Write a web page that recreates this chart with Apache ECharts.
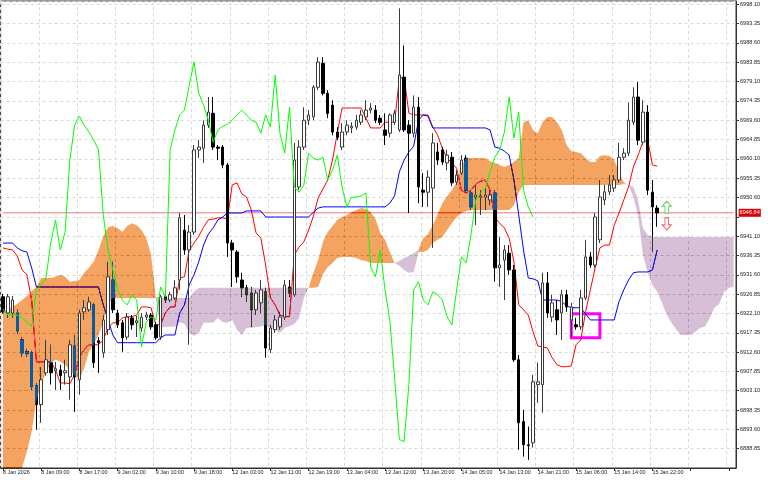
<!DOCTYPE html>
<html><head><meta charset="utf-8">
<script src="https://cdn.jsdelivr.net/npm/echarts@6/dist/echarts.min.js"></script>
<style>html,body{margin:0;padding:0;background:#fff}#c{width:768px;height:480px}</style>
</head><body><div id="c"></div>
<script>
const tickLabels = ["8 Jan 2026","8 Jan 09:00","8 Jan 17:00","9 Jan 02:00","9 Jan 10:00","9 Jan 18:00","12 Jan 03:00","12 Jan 11:00","12 Jan 19:00","13 Jan 04:00","13 Jan 12:00","13 Jan 20:00","14 Jan 05:00","14 Jan 13:00","14 Jan 21:00","15 Jan 06:00","15 Jan 14:00","15 Jan 22:00"];

const open = [6926.2,6922.2,6922.2,6922.2,6915.6,6912.7,6912.4,6904.3,6899.7,6907.5,
6910.0,6908.0,6908.2,6907.5,6906.5,6914.1,6905.8,6922.5,6923.0,6924.2,
6915.4,6912.4,6918.1,6930.3,6922.2,6919.8,6916.3,6921.0,6919.8,6918.5,
6921.2,6921.7,6919.3,6916.3,6926.2,6925.4,6925.9,6930.3,6942.6,6937.7,
6942.1,6962.3,6962.7,6968.4,6971.3,6963.0,6963.0,6958.6,6939.4,6937.2,
6930.3,6928.4,6927.1,6923.0,6924.7,6927.4,6913.2,6918.1,6918.8,6921.2,
6928.6,6926.7,6953.2,6963.0,6969.6,6970.4,6977.7,6983.6,6976.2,6973.3,
6966.7,6963.0,6966.7,6967.7,6967.9,6969.1,6970.4,6972.1,6972.1,6970.1,
6967.2,6966.4,6969.1,6967.2,6980.2,6968.4,6966.4,6972.8,6952.4,6951.9,
6952.9,6961.8,6962.3,6959.1,6960.5,6954.4,6956.6,6960.3,6951.7,6950.7,
6950.7,6950.7,6950.0,6951.7,6933.3,6935.2,6936.9,6932.8,6910.7,6895.5,
6889.8,6890.3,6904.6,6904.6,6929.6,6921.2,6923.0,6922.2,6926.7,6920.5,
6919.3,6918.8,6925.9,6936.0,6934.0,6940.2,6950.0,6952.0,6952.9,6954.9,
6960.5,6961.5,6969.1,6975.3,6964.2,6971.6,6951.9,6948.0];
const close = [6922.5,6926.2,6925.4,6917.8,6912.4,6912.2,6904.1,6899.7,6905.8,6910.7,
6907.5,6908.5,6906.8,6908.0,6914.4,6906.5,6922.2,6923.5,6924.9,6910.0,
6914.9,6920.5,6931.1,6923.0,6919.3,6916.1,6921.2,6919.3,6920.3,6921.2,
6921.7,6918.8,6916.1,6926.2,6925.4,6926.7,6928.4,6945.6,6937.7,6942.1,
6962.3,6963.0,6968.4,6971.6,6963.0,6962.7,6958.6,6939.4,6937.7,6931.1,
6928.4,6926.7,6923.0,6927.1,6927.9,6913.6,6918.5,6920.5,6921.2,6929.1,
6927.1,6959.8,6963.0,6969.6,6970.9,6977.7,6983.9,6976.2,6971.3,6966.7,
6965.4,6966.7,6968.4,6968.1,6969.6,6970.9,6972.1,6972.6,6969.6,6969.1,
6965.9,6970.9,6971.3,6980.7,6967.2,6966.4,6972.8,6953.2,6951.9,6955.6,
6964.0,6959.8,6959.3,6961.0,6954.2,6956.1,6959.8,6952.4,6948.3,6951.2,
6951.0,6951.2,6951.2,6933.3,6934.0,6937.7,6932.8,6910.7,6895.2,6889.8,
6889.6,6905.3,6905.3,6929.6,6922.2,6924.7,6920.5,6926.7,6923.7,6923.7,
6918.8,6925.9,6936.0,6934.0,6945.8,6950.7,6952.0,6953.7,6954.9,6960.5,
6961.5,6969.6,6975.3,6964.7,6971.6,6952.4,6948.3,6946.8];
const high = [6926.9,6926.9,6926.4,6923.0,6916.3,6913.4,6912.9,6905.0,6908.9,6915.6,
6914.4,6910.2,6909.5,6910.7,6915.6,6916.8,6923.0,6925.4,6926.2,6924.7,
6916.3,6921.7,6934.8,6934.8,6923.0,6920.5,6922.2,6921.7,6921.5,6922.2,
6922.5,6922.2,6920.0,6926.7,6927.1,6927.4,6930.3,6946.8,6946.3,6943.8,
6963.5,6964.7,6969.6,6975.3,6975.3,6963.5,6963.5,6959.1,6940.2,6937.7,
6932.1,6929.1,6928.6,6927.9,6930.3,6928.4,6919.3,6921.7,6922.5,6930.3,
6930.3,6964.0,6964.7,6972.8,6972.1,6978.2,6985.1,6985.1,6977.0,6974.5,
6967.9,6968.9,6969.6,6969.1,6970.9,6972.1,6974.5,6973.8,6973.3,6970.9,
6971.3,6971.3,6972.1,6997.1,6988.0,6969.6,6975.7,6975.3,6956.6,6957.3,
6966.4,6964.0,6963.0,6962.3,6961.8,6957.3,6961.0,6961.0,6952.4,6953.7,
6952.4,6952.9,6952.4,6952.4,6940.9,6938.9,6938.9,6934.0,6911.9,6898.4,
6894.3,6907.0,6910.0,6932.1,6932.3,6926.7,6925.4,6927.9,6927.9,6924.7,
6921.0,6927.9,6940.2,6937.2,6946.8,6954.9,6953.7,6956.1,6956.1,6964.0,
6962.7,6974.0,6977.7,6979.0,6974.5,6973.3,6954.9,6948.7];
const low = [6922.0,6921.0,6921.0,6917.1,6911.4,6911.4,6903.3,6893.5,6895.2,6906.8,
6904.6,6903.3,6903.3,6904.6,6900.9,6897.9,6902.1,6920.5,6922.5,6908.7,
6907.5,6911.2,6916.8,6922.2,6918.5,6912.7,6915.6,6918.1,6916.3,6917.6,
6920.5,6918.1,6915.6,6915.6,6924.7,6924.9,6925.4,6927.9,6936.5,6914.4,
6941.4,6960.3,6959.1,6967.7,6962.3,6959.8,6957.8,6936.0,6928.6,6929.6,
6926.2,6924.9,6918.8,6921.7,6922.2,6911.2,6912.4,6917.3,6918.1,6920.5,
6926.2,6926.2,6952.4,6962.3,6968.4,6969.6,6977.0,6975.7,6970.1,6965.9,
6964.7,6962.3,6965.9,6966.4,6967.2,6968.4,6969.6,6971.3,6968.9,6968.4,
6963.5,6965.4,6968.4,6966.7,6966.7,6946.8,6965.4,6949.2,6948.3,6948.3,
6938.2,6958.6,6958.6,6957.3,6953.4,6953.7,6956.1,6951.7,6947.5,6943.8,
6946.3,6947.5,6948.7,6929.9,6928.6,6925.4,6931.6,6910.2,6888.6,6886.9,
6886.1,6889.1,6900.1,6897.7,6921.0,6920.0,6916.8,6915.6,6922.5,6916.3,
6918.1,6918.1,6925.4,6933.3,6933.3,6939.4,6948.7,6951.2,6952.0,6954.2,
6959.8,6960.8,6968.4,6963.5,6963.5,6951.2,6937.2,6943.4];

const tenkan = [6938.2,6937.9,6937.7,6936.2,6932.8,6931.6,6925.4,6910.2,6910.2,6910.2,
6910.2,6908.2,6905.0,6905.0,6904.8,6907.0,6911.4,6913.2,6914.4,6914.4,
6914.4,6915.6,6918.6,6919.8,6919.8,6921.0,6921.3,6921.3,6921.7,6923.7,
6923.7,6923.5,6919.3,6919.3,6922.2,6923.7,6923.7,6930.8,6931.1,6937.7,
6939.4,6941.1,6943.3,6945.1,6945.3,6945.6,6945.6,6945.3,6953.7,6954.2,
6951.5,6950.7,6947.5,6941.9,6940.6,6934.0,6925.9,6924.2,6921.7,6921.3,
6921.3,6936.5,6938.4,6939.7,6942.6,6946.0,6950.5,6952.7,6954.9,6959.8,
6966.4,6972.6,6972.6,6972.6,6972.6,6972.6,6970.1,6967.7,6967.7,6967.7,
6969.1,6969.1,6969.1,6979.9,6980.2,6971.3,6970.9,6970.9,6970.9,6970.9,
6967.9,6966.0,6962.7,6960.3,6959.1,6957.8,6952.4,6951.7,6952.4,6953.9,
6954.6,6954.9,6952.4,6945.6,6944.3,6943.1,6940.6,6934.8,6924.2,6923.0,
6921.7,6917.6,6914.1,6913.9,6913.6,6911.2,6909.5,6909.0,6909.0,6909.2,
6914.4,6915.6,6922.5,6927.9,6933.3,6938.2,6938.9,6938.9,6943.8,6946.8,
6950.0,6953.2,6958.1,6961.0,6964.2,6964.7,6958.6,6958.3];
const kijun = [6939.4,6939.4,6939.4,6938.2,6937.5,6937.2,6933.3,6928.6,6928.6,6928.6,
6928.6,6928.6,6928.6,6928.6,6928.6,6928.6,6928.6,6928.6,6928.6,6928.6,
6928.6,6924.2,6920.5,6916.8,6914.9,6914.9,6914.9,6914.9,6914.9,6914.9,
6914.9,6914.9,6914.9,6916.1,6916.8,6916.8,6916.8,6922.2,6924.2,6929.1,
6931.6,6934.8,6938.9,6941.6,6943.1,6945.1,6945.8,6946.8,6946.8,6946.8,
6946.8,6947.3,6947.3,6947.3,6947.3,6945.8,6945.8,6945.8,6945.8,6945.8,
6945.8,6945.8,6945.8,6945.8,6945.8,6947.0,6948.0,6948.3,6948.3,6948.3,
6948.3,6948.3,6948.3,6948.3,6948.3,6948.3,6948.3,6948.3,6948.3,6948.3,
6948.3,6949.2,6951.0,6956.9,6959.8,6961.8,6963.2,6969.6,6970.9,6970.6,
6967.7,6967.7,6967.7,6967.7,6967.7,6967.7,6967.7,6967.7,6967.7,6967.7,
6967.7,6967.7,6967.2,6963.0,6962.7,6962.0,6961.0,6954.9,6946.3,6937.7,
6930.8,6930.6,6930.1,6925.4,6925.4,6925.4,6925.4,6925.0,6924.0,6923.5,
6923.5,6923.5,6922.0,6920.5,6920.5,6920.5,6920.5,6920.5,6920.5,6925.0,
6927.9,6930.3,6932.1,6932.3,6932.3,6932.3,6932.8,6937.7];
const chikou = [6923.2,6921.7,6921.7,6921.7,6921.0,6920.0,6918.8,6927.9,6929.1,6930.8,
6939.4,6945.1,6937.7,6942.1,6959.8,6968.4,6970.6,6968.4,6966.7,6964.7,
6962.3,6946.3,6937.7,6932.8,6927.9,6925.4,6924.2,6926.7,6925.4,6913.9,
6920.0,6921.3,6920.5,6928.6,6926.2,6962.3,6967.2,6970.9,6972.1,6978.2,
6983.9,6976.2,6973.3,6969.6,6964.2,6967.2,6968.1,6968.6,6969.6,6970.9,
6972.1,6970.9,6969.6,6969.1,6966.4,6970.9,6967.9,6980.7,6966.4,6961.5,
6972.8,6953.2,6951.9,6953.7,6961.5,6960.3,6959.8,6960.5,6954.9,6957.3,
6961.0,6953.2,6948.3,6950.7,6950.7,6951.0,6951.7,6933.5,6931.1,6937.7,
6927.9,6920.5,6906.3,6891.1,6890.6,6904.6,6927.9,6929.9,6925.4,6924.2,
6927.4,6926.7,6925.4,6921.3,6919.3,6927.9,6936.0,6934.5,6941.4,6950.0,
6951.7,6952.9,6956.9,6960.5,6962.3,6966.7,6975.3,6965.2,6971.6,6952.4,
6948.3,6945.8];
const senkouA = [6922.7,6923.2,6923.7,6924.5,6925.4,6926.4,6927.6,6928.6,6930.8,6930.8,
6930.8,6931.1,6931.6,6931.1,6929.9,6930.1,6930.3,6932.1,6933.3,6934.8,
6937.7,6941.1,6943.3,6943.6,6943.1,6942.1,6943.6,6944.3,6943.8,6942.6,
6940.6,6936.5,6926.2,6918.6,6918.8,6918.8,6918.8,6920.0,6919.5,6917.3,
6916.6,6917.3,6919.8,6919.8,6919.8,6921.0,6920.0,6919.8,6920.5,6918.1,
6916.8,6918.6,6918.6,6918.8,6918.8,6919.3,6918.6,6918.1,6917.3,6918.6,
6919.0,6919.5,6921.0,6925.9,6928.4,6932.1,6935.2,6939.7,6942.1,6943.6,
6945.1,6945.8,6946.3,6947.0,6947.5,6948.0,6947.8,6947.0,6945.3,6941.9,
6940.2,6937.2,6934.5,6933.8,6932.8,6932.1,6932.3,6937.7,6940.6,6941.6,
6943.8,6946.5,6949.2,6950.9,6952.4,6954.4,6958.3,6960.3,6960.3,6960.3,
6960.3,6960.3,6959.5,6959.1,6958.6,6958.1,6958.6,6959.3,6960.3,6969.1,
6969.6,6967.2,6966.4,6969.1,6970.4,6970.4,6969.1,6967.2,6963.5,6962.0,
6961.8,6961.5,6960.3,6959.3,6959.3,6960.8,6961.0,6960.8,6959.8,6956.9,
6953.9,6953.7,6950.7,6946.3,6936.5,6932.3,6929.1,6927.4,6924.7,6921.7,
6919.8,6918.1,6916.8,6916.8,6916.8,6917.6,6918.6,6918.8,6921.0,6923.5,
6924.5,6927.4,6928.4,6928.6];
const senkouB = [6881.2,6881.5,6882.0,6882.9,6884.2,6888.1,6893.0,6900.9,6904.6,6907.7,
6910.0,6910.7,6910.2,6909.5,6908.2,6906.8,6905.8,6908.7,6912.7,6914.6,
6916.8,6920.0,6924.7,6925.9,6925.9,6925.9,6925.9,6925.9,6925.9,6925.9,
6925.9,6925.9,6925.9,6925.9,6925.9,6925.9,6925.9,6925.9,6925.9,6925.9,
6927.4,6928.4,6928.4,6928.4,6928.4,6928.4,6928.4,6928.4,6928.4,6928.4,
6928.4,6928.4,6928.4,6928.4,6928.4,6928.4,6928.4,6928.4,6928.4,6928.4,
6928.4,6928.4,6928.4,6928.4,6928.4,6928.4,6928.6,6931.8,6933.5,6934.5,
6935.7,6936.0,6936.0,6936.0,6935.7,6935.2,6935.0,6934.5,6934.5,6934.5,
6934.5,6934.5,6934.5,6935.0,6935.7,6936.2,6936.9,6937.2,6937.2,6937.7,
6939.4,6940.2,6940.9,6942.6,6944.3,6945.8,6946.8,6947.3,6947.5,6947.5,
6947.5,6947.5,6947.5,6947.5,6947.5,6947.5,6947.5,6948.7,6951.9,6953.7,
6953.7,6953.7,6953.7,6953.7,6953.7,6953.7,6953.7,6953.7,6953.7,6953.7,
6953.7,6953.7,6953.7,6953.7,6953.7,6953.7,6953.7,6953.7,6953.7,6953.7,
6954.4,6953.7,6953.2,6950.0,6943.1,6941.4,6940.9,6940.9,6940.9,6940.9,
6940.9,6940.9,6940.9,6940.9,6940.9,6940.9,6940.9,6940.9,6940.9,6940.9,
6940.9,6940.9,6940.9,6940.9];

const bidPrice = 6946.84;
const boxFrom = [119, 6922.0];
const boxTo = [125, 6916.1];
const arrowUp = [139, 6948.2];
const arrowDown = [139, 6944.1];

const N = senkouA.length;
const cats = Array.from({length: N}, (_, i) => String(i));
const empty = ['-', '-', '-', '-'];
const ohlc = open.map((o, i) => [o, close[i], low[i], high[i]]);
const bullData = ohlc.map(d => d[1] > d[0] ? d : empty);
const bearData = ohlc.map(d => d[1] < d[0] ? d : empty);
const kumoBase = senkouA.map((a, i) => Math.min(a, senkouB[i]));
const kumoUp = senkouA.map((a, i) => a > senkouB[i] ? +(a - senkouB[i]).toFixed(2) : 0);
const kumoDown = senkouA.map((a, i) => senkouB[i] > a ? +(senkouB[i] - a).toFixed(2) : 0);

const every8 = (i) => i % 8 === 0;
const FONT = 'Liberation Sans';

const chart = echarts.init(document.getElementById('c'), null, {renderer: 'canvas'});
chart.setOption({
  backgroundColor: '#ffffff',
  animation: false,
  grid: {left: 0, right: 32, top: 1, bottom: 12, show: true, borderColor: '#333', borderWidth: 1},
  xAxis: {
    type: 'category', data: cats, boundaryGap: true,
    axisLine: {show: true, lineStyle: {color: '#333', width: 1}},
    axisTick: {show: true, alignWithLabel: true, interval: every8, length: 3, lineStyle: {color: '#333'}},
    axisLabel: {interval: every8, formatter: (v) => tickLabels[Number(v) / 8] || '', align: 'left',
      fontSize: 5.4, color: '#222', margin: 2, fontFamily: FONT},
    splitLine: {show: true, interval: every8, lineStyle: {color: '#d9d9d9', type: [3, 3], width: 1}}
  },
  yAxis: {
    type: 'value', position: 'right', min: 6884.10, max: 6998.91, interval: 4.75,
    axisLine: {show: true, lineStyle: {color: '#333', width: 1}},
    axisTick: {show: true, length: 3, lineStyle: {color: '#333'}},
    axisLabel: {fontSize: 5.6, color: '#222', margin: 4, fontFamily: FONT, showMinLabel: false, showMaxLabel: false,
      formatter: (v) => Math.abs(v - 6945.85) < 0.01 ? '' : v.toFixed(2)},
    splitLine: {show: true, lineStyle: {color: '#d9d9d9', type: [3, 3], width: 1}}
  },
  series: [
    {type: 'line', name: 'bid', z: 1, silent: true, symbol: 'none', blendMode: 'source-over',
      data: [[0, bidPrice], [N - 1, bidPrice]],
      lineStyle: {color: '#f07878', width: 1},
      endLabel: {show: true, formatter: bidPrice.toFixed(2), color: '#fff', backgroundColor: '#e00000',
        fontSize: 5.6, fontFamily: FONT, padding: [1, 1], distance: 5}},
    {type: 'candlestick', name: 'bear', data: bearData, barWidth: 3, z: 2, silent: true,
      itemStyle: {color: '#000', color0: '#000', borderColor: '#000', borderColor0: '#000', borderWidth: 1}},
    {type: 'line', name: 'tenkan', data: tenkan, symbol: 'none', z: 2, silent: true,
      lineStyle: {color: '#ff0000', width: 1}},
    {type: 'line', name: 'kijun', data: kijun, symbol: 'none', z: 2, silent: true,
      lineStyle: {color: '#0000ff', width: 1}},
    {type: 'line', name: 'kumoBase', stack: 'kumo', data: kumoBase, symbol: 'none', z: 3, silent: true,
      lineStyle: {opacity: 0, width: 0}},
    {type: 'line', name: 'kumoUp', stack: 'kumo', data: kumoUp, symbol: 'none', z: 3, silent: true,
      lineStyle: {opacity: 0, width: 0}, areaStyle: {color: 'rgb(11,91,159)', opacity: 1}, blendMode: 'difference'},
    {type: 'line', name: 'kumoDown', stack: 'kumo', data: kumoDown, symbol: 'none', z: 3, silent: true,
      lineStyle: {opacity: 0, width: 0}, areaStyle: {color: 'rgb(39,64,39)', opacity: 1}, blendMode: 'difference'},
    {type: 'candlestick', name: 'bull', data: bullData, barWidth: 3, z: 4, silent: true,
      itemStyle: {color: '#fff', color0: '#fff', borderColor: '#3a3a3a', borderColor0: '#3a3a3a', borderWidth: 1}},
    {type: 'line', name: 'chikou', data: chikou, symbol: 'none', z: 5, silent: true,
      lineStyle: {color: '#00ff00', width: 1},
      markArea: {silent: true,
        data: [[{xAxis: boxFrom[0], yAxis: boxFrom[1]}, {xAxis: boxTo[0], yAxis: boxTo[1]}]],
        itemStyle: {color: 'rgba(0,0,0,0)', borderColor: '#ff00ff', borderWidth: 3}}},
    {type: 'scatter', name: 'arrows', z: 6, silent: true,
      data: [
        {value: arrowUp, symbol: 'path://M5,0 L10,5 L7,5 L7,12 L3,12 L3,5 L0,5 Z', symbolSize: [9, 12],
          itemStyle: {color: '#fff', borderColor: '#33cc33', borderWidth: 1}},
        {value: arrowDown, symbol: 'path://M3,0 L7,0 L7,7 L10,7 L5,12 L0,7 L3,7 Z', symbolSize: [9, 12],
          itemStyle: {color: '#fff', borderColor: '#ff3333', borderWidth: 1}}
      ]}
  ]
});
</script>
</body></html>
